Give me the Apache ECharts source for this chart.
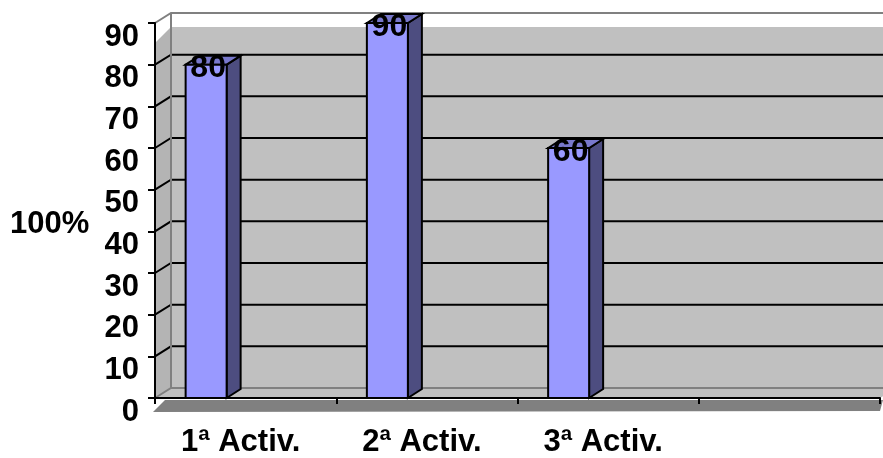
<!DOCTYPE html>
<html>
<head>
<meta charset="utf-8">
<script src="https://cdn.jsdelivr.net/npm/echarts@6/dist/echarts.min.js"></script>
<style>html,body{margin:0;padding:0;background:#fff;}#c{width:883px;height:458px;}</style>
</head>
<body>
<div id="c"></div>
<script>
const categories = ['1ª Activ.', '2ª Activ.', '3ª Activ.', ''];
const values = [80, 90, 60];
const yTicks = [0, 10, 20, 30, 40, 50, 60, 70, 80, 90];
const axisName = '100%';

const FONT = "'Liberation Sans', Arial, sans-serif";
const chart = echarts.init(document.getElementById('c'));

const DX = 16, DY = -10;      // back wall offset
const BDX = 14, BDY = -9;     // bar depth

function renderWalls(params, api) {
  const cs = params.coordSys;
  const x0 = cs.x, x1 = cs.x + cs.width;
  const yTop = api.coord([0, 90])[1];
  const yBot = api.coord([0, 0])[1];
  const ch = [];
  ch.push({type: 'polygon', shape: {points: [[x0 + 10, yBot + 2], [x1 + 3, yBot + 2], [x1, yBot + 13], [x0 - 2, yBot + 14]]},
    style: {fill: '#808080'}, silent: true});
  ch.push({type: 'polygon', shape: {points: [[x0, yBot], [x0 + DX, yBot + DY], [x1 + DX, yBot + DY], [x1, yBot]]},
    style: {fill: '#c0c0c0'}, silent: true});
  ch.push({type: 'rect', shape: {x: x0 + DX, y: yTop + DY + 14, width: cs.width + DX + 10, height: (yBot + DY) - (yTop + DY + 14)},
    style: {fill: '#c0c0c0'}, silent: true});
  ch.push({type: 'polygon', shape: {points: [[x0, yTop + 20], [x0 + DX, yTop + DY + 14], [x0 + DX, yBot + DY], [x0, yBot]]},
    style: {fill: '#b4b4b4'}, silent: true});
  yTicks.forEach(function (v) {
    const yf = api.coord([0, v])[1];
    const col = (v === 0 || v === 90) ? '#808080' : '#000';
    ch.push({type: 'polyline', shape: {points: [[x0, yf], [x0 + DX, yf + DY], [x1 + DX + 10, yf + DY]]},
      style: {stroke: col, lineWidth: 2, fill: null}, silent: true});
    ch.push({type: 'text', style: {text: String(v), x: x0 - 16, y: yf + 14, align: 'right', verticalAlign: 'middle',
      fill: '#000', font: 'bold 31px ' + FONT}, silent: true});
  });
  ch.push({type: 'line', shape: {x1: x0 + DX, y1: yTop + DY, x2: x0 + DX, y2: yBot + DY},
    style: {stroke: '#808080', lineWidth: 2}, silent: true});
  return {type: 'group', children: ch};
}

function renderBar(params, api) {
  const idx = api.value(0), val = api.value(1);
  const c = api.coord([idx, val]);
  const base = api.coord([idx, 0]);
  const w = 41;
  const xl = c[0] - 60, xr = xl + w;
  const yt = c[1], yb = base[1];
  const st = {stroke: '#000', lineWidth: 2, lineJoin: 'miter'};
  return {type: 'group', children: [
    {type: 'polygon', shape: {points: [[xr, yb], [xr + BDX, yb + BDY], [xr + BDX, yt + BDY], [xr, yt]]},
      style: Object.assign({fill: '#4d4d80'}, st)},
    {type: 'polygon', shape: {points: [[xl, yt], [xl + BDX, yt + BDY], [xr + BDX, yt + BDY], [xr, yt]]},
      style: Object.assign({fill: '#7878cc'}, st)},
    {type: 'rect', shape: {x: xl, y: yt, width: w, height: yb - yt},
      style: Object.assign({fill: '#9999ff'}, st)},
    {type: 'text', style: {text: String(val), x: xl + w / 2 + 2, y: yt + 4, align: 'center', verticalAlign: 'middle',
      fill: '#000', font: 'bold 32px ' + FONT}}
  ]};
}

chart.setOption({
  animation: false,
  backgroundColor: '#fff',
  title: {text: axisName, left: 10, top: 209, padding: 0,
    textStyle: {fontFamily: FONT, fontWeight: 'bold', fontSize: 31, color: '#000'}},
  grid: {left: 155, right: 3, top: 23, bottom: 59},
  xAxis: {
    type: 'category', data: categories, boundaryGap: true, z: 10,
    axisLine: {lineStyle: {color: '#000', width: 2}},
    axisTick: {show: true, length: 6, lineStyle: {color: '#000', width: 2}},
    axisLabel: {color: '#000', fontFamily: FONT, fontWeight: 'bold', fontSize: 31, margin: 29, padding: [0, 10, 0, 0], interval: 0},
    splitLine: {show: false}
  },
  yAxis: {
    type: 'value', min: 0, max: 90, interval: 10, z: 10,
    axisLine: {show: true, lineStyle: {color: '#000', width: 2}},
    axisTick: {show: true, length: 7, lineStyle: {color: '#000', width: 2}},
    axisLabel: {show: false},
    splitLine: {show: false}
  },
  series: [
    {type: 'custom', z: 1, renderItem: renderWalls, data: [[0, 0]], silent: true, clip: false},
    {type: 'custom', z: 5, renderItem: renderBar, data: values.map(function (v, i) { return [i, v]; }), clip: false}
  ]
});
</script>
</body>
</html>
